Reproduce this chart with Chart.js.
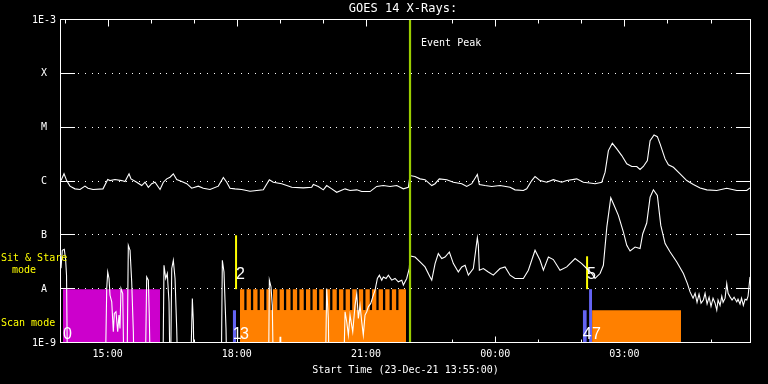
<!DOCTYPE html>
<html><head><meta charset="utf-8">
<script src="https://cdn.jsdelivr.net/npm/chart.js@4.4.1/dist/chart.umd.min.js"></script>
<style>html,body{margin:0;padding:0;background:#000;}canvas{display:block;}</style>
</head><body>
<canvas id="c" width="768" height="384"></canvas>
<script>
// ---- text / axes ----
const chartTitle = 'GOES 14 X-Rays:';
const xAxisTitle = 'Start Time (23-Dec-21 13:55:00)';
const xRange = [0, 960];                       // minutes after 13:55:00
const majorTickMinutes = [65, 245, 425, 605, 785];
const majorTickLabels = ['15:00', '18:00', '21:00', '00:00', '03:00'];
const hourTickMinutes = [5,65,125,185,245,305,365,425,485,545,605,665,725,785,845,905];
const yTickValues = [1e-9, 1e-8, 1e-7, 1e-6, 1e-5, 1e-4, 1e-3];
const yTickLabels = ['1E-9', 'A', 'B', 'C', 'M', 'X', '1E-3'];
const gridLevels = [1e-8, 1e-7, 1e-6, 1e-5, 1e-4];

// ---- GOES long channel (1-8 A) ----
const longTimes = [
0,4.2,7.9,12.5,19.5,26.5,33.4,37.6,44.6,58.5,
65.1,68.3,75.2,84.6,89.2,94.8,97.5,105.5,112.5,117.1,
121.7,126.4,131,138,142.6,147.3,151.9,156.5,161.2,168.2,
175.2,182.1,191.3,198.3,207.6,219.2,226.2,230.9,235.5,242.5,
251.8,263.4,281.9,290.3,295.8,307.5,321.5,337.6,349.3,351.6,
358.5,365.5,370.2,377.2,384.2,395.8,402.7,412.1,419,430.6,
439.9,449.1,458.5,467.8,477,484,486.3,493.3,500.3,507.2,
516.6,521.2,527.1,537.5,546.7,558.4,565.3,572.3,580.1,582.9,
590.8,600.2,611.7,625.7,632.6,644.2,648.9,655.9,660.5,667.5,
676.8,686,697.7,704.7,718.6,727.8,739.5,744.1,753.5,758.1,
762.7,768.2,774.4,781.3,788.3,795.3,802.2,806.8,811.4,817,
820.8,826.3,830.9,834.7,841.7,846.3,853.3,862.6,871.9,881.1,
890.5,899.8,913.7,927.6,941.6,955.5,960];
const longFlux = [
1.04e-6,1.39e-6,1.04e-6,0.82e-6,0.73e-6,0.71e-6,0.82e-6,0.75e-6,0.71e-6,0.73e-6,
1.09e-6,1.04e-6,1.09e-6,1.04e-6,1.0e-6,1.39e-6,1.12e-6,0.97e-6,0.84e-6,0.97e-6,
0.78e-6,0.91e-6,0.97e-6,0.71e-6,0.97e-6,1.12e-6,1.2e-6,1.39e-6,1.09e-6,1.0e-6,
0.91e-6,0.75e-6,0.82e-6,0.75e-6,0.71e-6,0.82e-6,1.19e-6,0.97e-6,0.75e-6,0.73e-6,
0.71e-6,0.66e-6,0.70e-6,1.08e-6,0.97e-6,0.91e-6,0.78e-6,0.76e-6,0.78e-6,0.88e-6,
0.81e-6,0.70e-6,0.84e-6,0.73e-6,0.63e-6,0.73e-6,0.68e-6,0.70e-6,0.65e-6,0.65e-6,
0.81e-6,0.84e-6,0.81e-6,0.84e-6,0.73e-6,0.78e-6,1.29e-6,1.24e-6,1.12e-6,1.08e-6,
0.84e-6,0.91e-6,1.12e-6,1.08e-6,0.97e-6,0.91e-6,0.81e-6,0.91e-6,1.35e-6,0.88e-6,
0.84e-6,0.81e-6,0.84e-6,0.78e-6,0.70e-6,0.68e-6,0.73e-6,1.04e-6,1.24e-6,1.04e-6,
0.97e-6,1.08e-6,0.97e-6,1.04e-6,1.12e-6,0.97e-6,0.93e-6,0.91e-6,0.97e-6,1.49e-6,
3.75e-6,5.12e-6,4.03e-6,3.03e-6,2.13e-6,1.9e-6,1.9e-6,1.67e-6,1.9e-6,2.45e-6,
5.75e-6,7.33e-6,6.81e-6,4.99e-6,2.63e-6,2.04e-6,1.84e-6,1.39e-6,1.04e-6,0.88e-6,
0.76e-6,0.70e-6,0.68e-6,0.75e-6,0.68e-6,0.68e-6,0.76e-6];

// ---- GOES short channel (0.5-4 A); 1e-10 = below plot floor ----
const shortTimes = [
0,1.8,4.6,6.5,7.7,9.3,61.3,63.7,65.1,66.9,
68.3,70.7,72.9,74.3,76.6,79,80.8,82.2,83.6,86,
88.2,91.6,93.8,96.2,98.5,100.8,102.4,117,119.4,121.7,
123,125,141.7,143.5,145.9,148.1,150.5,152.3,154.3,156.5,
158.9,161.2,163.5,179.8,183,184.4,186,223,224.8,227.1,
229.9,231.7,288.9,290.3,292.6,294.4,296.4,304.5,305.2,306.2,
367.9,370.2,372.5,373.9,393,395.8,398.1,400.4,402.7,406.5,
409.7,412.1,414.3,416.7,419,421.2,423.6,426,428.2,431.6,
434.4,437.6,440.8,443.6,446.9,449.1,452.9,456.1,460.8,465.4,
470,474.8,477,481.7,485.3,486.3,493.3,500.3,507.2,514.2,
516.6,521.2,525.7,530.5,535.1,541.1,546.7,553.6,558.4,563,
567.6,574.5,580.1,581.5,582.9,588.5,595.4,602.4,611.7,618.7,
625.7,632.6,644.2,651.2,660.5,667.5,672.1,679.1,686,695.3,
704.7,716.3,725.6,732.5,739.5,744.1,751.1,755.7,760.5,766,
769.7,776.6,783.6,788.3,792.9,799.9,806.8,810.6,816.1,820.8,
825.4,830.9,835.7,841.7,848.7,858,867.2,872.8,876.5,880.7,
883.5,886.2,889,891.8,895,897.4,900.2,903,905.7,908.5,
911.3,913.7,915.5,918.3,920.7,922.5,925.3,927.6,929.5,932.2,
935,937.8,941.6,943.3,946.1,948.2,950.7,953.1,955.5,957.3,960];
const shortFlux = [
2.45e-8,5.28e-8,5.51e-8,3.44e-8,1.82e-8,1e-10,1e-10,1.03e-8,2.09e-8,1.58e-8,
7.7e-9,5.8e-9,1.62e-9,3.55e-9,3.8e-9,1.62e-9,3.3e-9,1.87e-9,1.03e-8,8.3e-9,
1e-10,1e-10,6.52e-8,5.28e-8,1.37e-8,1.62e-9,1e-10,1e-10,1.69e-8,1.47e-8,
3.3e-9,1e-10,1e-10,2.78e-8,1.58e-8,1.95e-8,5.8e-9,1e-10,2.42e-8,3.44e-8,
1.58e-8,1.87e-9,1e-10,1e-10,6.7e-9,2.48e-9,1e-10,1e-10,3.44e-8,2.09e-8,
1.87e-9,1e-10,1e-10,1.47e-8,1.1e-8,5e-9,1e-10,1e-10,1.3e-9,1e-10,
1e-10,1.03e-8,2.87e-9,1e-10,1e-10,3.8e-9,2.48e-9,1.4e-9,3.3e-9,1.62e-9,
5e-9,8.3e-9,2.87e-9,5e-9,2.48e-9,1.4e-9,3.3e-9,3.8e-9,4.7e-9,5.43e-9,
7.2e-9,9.6e-9,1.58e-8,1.82e-8,1.47e-8,1.69e-8,1.58e-8,1.82e-8,1.47e-8,1.58e-8,
1.37e-8,1.47e-8,1.19e-8,1.58e-8,2.42e-8,4.14e-8,3.96e-8,3.2e-8,2.59e-8,1.69e-8,
1.47e-8,2.99e-8,4.58e-8,3.7e-8,3.96e-8,4.91e-8,2.99e-8,2.09e-8,2.59e-8,2.78e-8,
1.82e-8,2.42e-8,9.06e-8,6.52e-8,2.25e-8,2.42e-8,2.09e-8,1.82e-8,2.42e-8,2.59e-8,
1.82e-8,1.58e-8,1.58e-8,2.25e-8,5.28e-8,3.44e-8,2.25e-8,3.96e-8,3.55e-8,2.25e-8,
2.59e-8,3.7e-8,2.99e-8,2.42e-8,1.95e-8,1.58e-8,1.95e-8,2.78e-8,1.42e-7,4.99e-7,
3.86e-7,2.35e-7,1.15e-7,6.52e-8,5.12e-8,6.07e-8,5.66e-8,1.07e-7,1.69e-7,5.12e-7,
7.02e-7,5.5e-7,1.53e-7,7.02e-8,4.91e-8,3.2e-8,1.95e-8,1.27e-8,8.9e-9,6.8e-9,
8.4e-9,5.7e-9,8.1e-9,5.5e-9,6.3e-9,8.4e-9,5.3e-9,7.1e-9,4.8e-9,6.8e-9,
5.5e-9,4.1e-9,6.3e-9,5e-9,7.4e-9,5.7e-9,6.8e-9,1.27e-8,8.4e-9,7.2e-9,
6.3e-9,7.1e-9,5.8e-9,6.5e-9,5.3e-9,6.8e-9,5e-9,6.5e-9,6.3e-9,7.4e-9,1.69e-8];

// ---- event peak ----
const eventPeakTime = 486.3;
const eventPeakLabel = 'Event Peak';

// ---- observation blocks (minutes after start) ----
const sitStareLevel = 1e-8;       // top of "Sit & Stare" row
const scanLevel = 4.08e-9;        // top of "Scan mode" row
const magentaSpan = [2.8, 138];
const orangeSpans = [[249.4, 480.8], [740, 864]];
const combStarts = [249.4,258.6,267.8,277.0,286.2,295.4,304.6,313.8,323.0,332.2,341.4,350.6,359.8,
  369.0,378.2,387.4,396.6,405.8,415.0,424.2,433.4,442.6,451.8,461.0,470.2];
const combEnds = [255.4,264.6,273.8,283.0,292.2,301.4,310.6,319.8,329.0,338.2,347.4,356.6,365.8,
  375.0,384.2,393.4,402.6,411.8,421.0,430.2,439.4,448.6,457.8,467.0,480.8];
const blueSpans = [[239.3, 243.9], [727, 732.6], [735.8, 740]];
const blueTops = [4.08e-9, 4.08e-9, 1e-8];
const yellowTimes = [243.9, 733];
const yellowTops = [1e-7, 4.08e-8];
const obsLabels = ['0', '1', '2', '3', '4', '5', '7'];
const obsLabelTimes = [2.8, 239.3, 243.9, 249.4, 727, 733, 740];
const obsLabelRow = ['low', 'low', 'high', 'low', 'low', 'high', 'low'];

// ---- build datasets ----
const WHITE = '#ffffff', MAGENTA = '#cc00cc', ORANGE = '#ff8000', BLUE = '#6464f4', YELLOW = '#ffff00', GREEN = '#9acd00';
const zip = (xs, ys) => xs.map((x, i) => ({x, y: ys[i]}));
const rect = (x0, x1, top, color, order) => ({
  data: [{x: x0, y: top}, {x: x1, y: top}], fill: 'start', backgroundColor: color,
  borderColor: 'rgba(0,0,0,0)', borderWidth: 0, order
});
const combPts = [{x: orangeSpans[0][0], y: scanLevel}];
combStarts.forEach((s, i) => {
  combPts.push({x: s, y: scanLevel}, {x: s, y: sitStareLevel}, {x: combEnds[i], y: sitStareLevel}, {x: combEnds[i], y: scanLevel});
});
combPts.push({x: orangeSpans[0][1], y: scanLevel});

const datasets = [
  {data: [{x: eventPeakTime, y: 1e-9}, {x: eventPeakTime, y: 1e-3}], borderColor: GREEN, borderWidth: 2.2, order: 0},
  {data: zip(longTimes, longFlux), borderColor: WHITE, borderWidth: 1.1, order: 1},
  {data: zip(shortTimes, shortFlux), borderColor: WHITE, borderWidth: 1.1, order: 2},
  ...yellowTimes.map((t, i) => ({data: [{x: t, y: sitStareLevel}, {x: t, y: yellowTops[i]}], borderColor: YELLOW, borderWidth: 2, order: 3})),
  ...blueSpans.map((s, i) => rect(s[0], s[1], blueTops[i], BLUE, 4)),
  rect(magentaSpan[0], magentaSpan[1], sitStareLevel, MAGENTA, 5),
  ...orangeSpans.map(s => rect(s[0], s[1], scanLevel, ORANGE, 5)),
  {data: combPts, fill: 'start', backgroundColor: ORANGE, borderColor: 'rgba(0,0,0,0)', borderWidth: 0, order: 5}
];

const MONO = "'DejaVu Sans Mono', monospace";
Chart.defaults.font.family = MONO;
Chart.defaults.font.size = 10;

const deco = {
  id: 'deco',
  beforeDatasetsDraw(chart) {
    const {ctx, chartArea: a, scales: {x, y}} = chart;
    ctx.save();
    ctx.strokeStyle = WHITE; ctx.lineWidth = 1;
    ctx.beginPath();
    yTickValues.forEach(v => {
      const py = Math.round(y.getPixelForValue(v)) - 0.5;
      ctx.moveTo(a.left, py); ctx.lineTo(a.left + 14, py);
      ctx.moveTo(a.right - 14, py); ctx.lineTo(a.right, py);
    });
    hourTickMinutes.forEach(m => {
      const px = Math.round(x.getPixelForValue(m)) + 0.5;
      const len = majorTickMinutes.includes(m) ? 6.5 : 3.5;
      ctx.moveTo(px, a.top); ctx.lineTo(px, a.top + len);
      ctx.moveTo(px, a.bottom); ctx.lineTo(px, a.bottom - len);
    });
    ctx.stroke();
    ctx.restore();
  },
  afterDatasetsDraw(chart) {
    const {ctx, chartArea: a, scales: {x, y}} = chart;
    ctx.save();
    // dotted grid
    ctx.fillStyle = WHITE;
    gridLevels.forEach(v => {
      const py = Math.round(y.getPixelForValue(v)) - 1;
      for (let xx = a.left + 17; xx < a.right - 15; xx += 6.8) ctx.fillRect(Math.round(xx), py, 1, 1);
    });
    // frame
    ctx.strokeStyle = WHITE; ctx.lineWidth = 1;
    ctx.strokeRect(Math.round(a.left) - 0.5, Math.round(a.top) - 0.5, Math.round(a.right - a.left) + 1, Math.round(a.bottom - a.top));
    // title
    ctx.textBaseline = 'middle';
    ctx.textAlign = 'center';
    ctx.font = '12px ' + MONO;
    ctx.fillText(chartTitle, 403, 9);
    // event peak label
    ctx.textAlign = 'left';
    ctx.font = '10px ' + MONO;
    ctx.fillText(eventPeakLabel, x.getPixelForValue(eventPeakTime) + 11, 43);
    // mode labels
    ctx.fillStyle = YELLOW;
    ctx.fillText('Sit & Stare', 1, y.getPixelForValue(3.75e-8));
    ctx.fillText('mode', 12, y.getPixelForValue(2.2e-8));
    ctx.fillText('Scan mode', 1, y.getPixelForValue(2.3e-9));
    // observation index labels
    ctx.fillStyle = WHITE;
    ctx.textBaseline = 'alphabetic';
    ctx.font = '16px "Liberation Sans", sans-serif';
    obsLabels.forEach((t, i) => {
      const px = x.getPixelForValue(obsLabelTimes[i]);
      const py = obsLabelRow[i] === 'low' ? a.bottom - 4.5 : y.getPixelForValue(sitStareLevel) - 10.5;
      ctx.fillText(t, px, py);
    });
    ctx.restore();
  }
};

new Chart(document.getElementById('c'), {
  type: 'line',
  data: {datasets},
  options: {
    responsive: false, animation: false, devicePixelRatio: 1,
    layout: {padding: {top: 20, right: 18, left: 0, bottom: 0}},
    elements: {point: {radius: 0}, line: {tension: 0}},
    plugins: {legend: {display: false}, tooltip: {enabled: false}, title: {display: false}},
    scales: {
      x: {
        type: 'linear', min: xRange[0], max: xRange[1],
        grid: {display: false, drawTicks: false}, border: {display: false},
        afterBuildTicks: s => { s.ticks = majorTickMinutes.map(v => ({value: v})); },
        afterFit: s => { s.height = 41; },
        ticks: {autoSkip: false, maxRotation: 0, color: WHITE, padding: 5,
                callback: (v, i) => majorTickLabels[i]},
        title: {display: true, text: xAxisTitle, color: WHITE, padding: {top: 0, bottom: 8}}
      },
      y: {
        type: 'logarithmic', min: yTickValues[0], max: yTickValues[yTickValues.length - 1],
        grid: {display: false, drawTicks: false}, border: {display: false},
        afterBuildTicks: s => { s.ticks = yTickValues.map(v => ({value: v})); },
        afterFit: s => { s.width = 61; },
        ticks: {autoSkip: false, color: WHITE, crossAlign: 'center', padding: 5,
                callback: (v, i) => yTickLabels[i]}
      }
    }
  },
  plugins: [deco]
});
</script>
</body></html>
